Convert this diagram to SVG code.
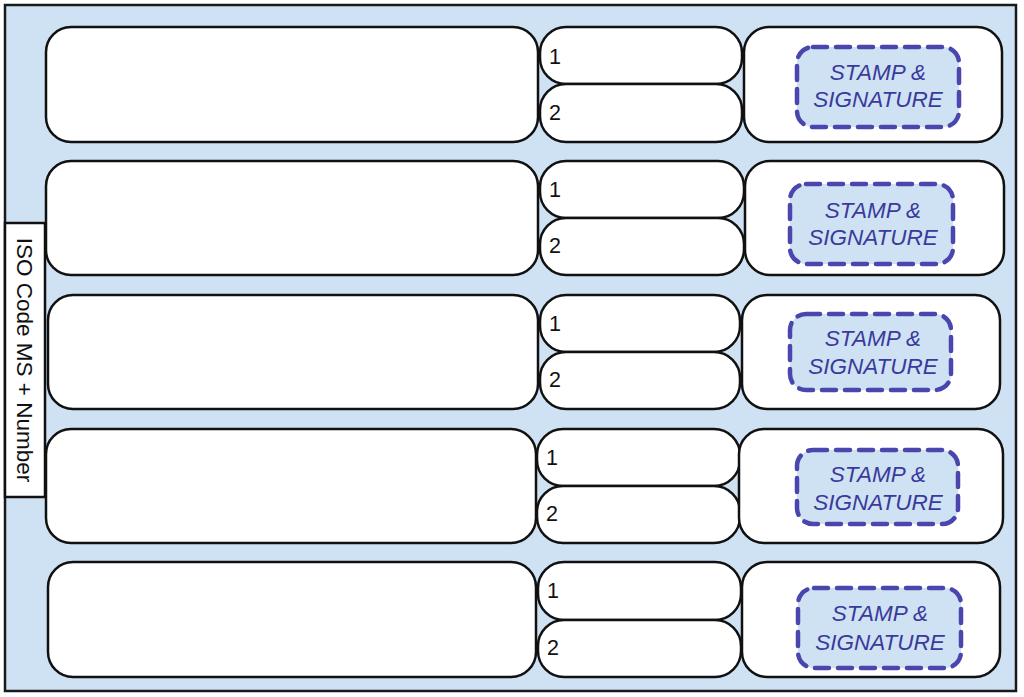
<svg xmlns="http://www.w3.org/2000/svg" width="1024" height="697" viewBox="0 0 1024 697">
<style>
.frame{fill:#cfe2f3;stroke:#1a1a1a;stroke-width:2.5}
.box{fill:#ffffff;stroke:#111111;stroke-width:2.5}
.stamp{fill:#cfe2f3;stroke:#4a46ad;stroke-width:4.5;stroke-dasharray:14 9;stroke-linecap:round}
.num{font-family:"Liberation Sans",Arial,sans-serif;font-size:21.5px;fill:#111}
.st{font-family:"Liberation Sans",Arial,sans-serif;font-size:22.5px;font-style:italic;fill:#3a3a9c;text-anchor:middle}
.lbl{font-family:"Liberation Sans",Arial,sans-serif;font-size:22.5px;fill:#111;text-anchor:middle}
</style>
<rect class="frame" x="5" y="5" width="1011" height="686"/>
<g id="label">
<rect x="5" y="223" width="40" height="274" fill="#ffffff" stroke="#111" stroke-width="2.5"/>
<text class="lbl" transform="translate(17 360) rotate(90)">ISO Code MS + Number</text>
</g>
<g id="row1">
<rect class="box" x="46" y="27" width="492" height="115" rx="25"/>
<rect class="box" x="540" y="27" width="202" height="57" rx="26"/>
<rect class="box" x="540" y="84" width="202" height="58" rx="26"/>
<rect class="box" x="744" y="27" width="258" height="115" rx="25"/>
<rect class="stamp" x="797" y="47" width="162" height="80" rx="16"/>
<text class="num" x="549" y="64">1</text>
<text class="num" x="549" y="120">2</text>
<text class="st" x="878" y="80">STAMP &amp;</text>
<text class="st" x="878" y="107">SIGNATURE</text>
</g>
<g id="row2">
<rect class="box" x="46" y="161" width="492" height="114" rx="25"/>
<rect class="box" x="540" y="161" width="204" height="57" rx="26"/>
<rect class="box" x="540" y="218" width="204" height="57" rx="26"/>
<rect class="box" x="745" y="161" width="259" height="114" rx="25"/>
<rect class="stamp" x="790" y="184" width="163" height="80" rx="16"/>
<text class="num" x="549" y="197">1</text>
<text class="num" x="549" y="253">2</text>
<text class="st" x="873" y="218">STAMP &amp;</text>
<text class="st" x="873" y="245">SIGNATURE</text>
</g>
<g id="row3">
<rect class="box" x="48" y="295" width="490" height="114" rx="25"/>
<rect class="box" x="540" y="295" width="200" height="57" rx="26"/>
<rect class="box" x="540" y="352" width="200" height="57" rx="26"/>
<rect class="box" x="742" y="295" width="258" height="114" rx="25"/>
<rect class="stamp" x="790" y="314" width="161" height="76" rx="16"/>
<text class="num" x="549" y="331">1</text>
<text class="num" x="549" y="387">2</text>
<text class="st" x="873" y="346">STAMP &amp;</text>
<text class="st" x="873" y="374">SIGNATURE</text>
</g>
<g id="row4">
<rect class="box" x="46" y="429" width="490" height="114" rx="25"/>
<rect class="box" x="537" y="429" width="203" height="57" rx="26"/>
<rect class="box" x="537" y="486" width="203" height="57" rx="26"/>
<rect class="box" x="739" y="429" width="264" height="114" rx="25"/>
<rect class="stamp" x="797" y="450" width="161" height="74" rx="16"/>
<text class="num" x="546" y="465">1</text>
<text class="num" x="546" y="521">2</text>
<text class="st" x="878" y="482">STAMP &amp;</text>
<text class="st" x="878" y="510">SIGNATURE</text>
</g>
<g id="row5">
<rect class="box" x="48" y="562" width="488" height="115" rx="25"/>
<rect class="box" x="538" y="562" width="203" height="58" rx="26"/>
<rect class="box" x="538" y="620" width="203" height="57" rx="26"/>
<rect class="box" x="742" y="562" width="258" height="115" rx="25"/>
<rect class="stamp" x="798" y="588" width="163" height="80" rx="16"/>
<text class="num" x="547" y="598">1</text>
<text class="num" x="547" y="655">2</text>
<text class="st" x="880" y="621">STAMP &amp;</text>
<text class="st" x="880" y="650">SIGNATURE</text>
</g>
<g id="connectors"/>
</svg>
